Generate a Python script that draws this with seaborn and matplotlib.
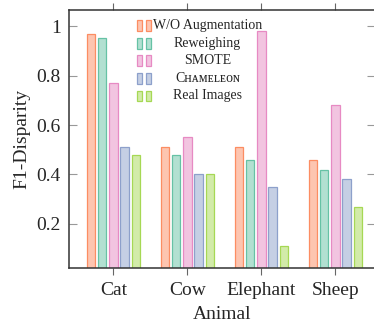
import pandas as pd
import matplotlib
matplotlib.use("Agg")
import matplotlib.pyplot as plt
from matplotlib.colors import to_rgba
from matplotlib.patches import Rectangle
import seaborn as sns

# ---- datos ----
animals = ["Cat", "Cow", "Elephant", "Sheep"]
methods = ["W/O Augmentation", "Reweighing", "SMOTE", "Chameleon", "Real Images"]
labels = ["W/O Augmentation", "Reweighing", "SMOTE", "C\u029c\u1d00\u1d0d\u1d07\u029f\u1d07\u1d0f\u0274", "Real Images"]
wo_aug = [0.97, 0.51, 0.51, 0.46]
reweigh = [0.95, 0.48, 0.46, 0.42]
smote = [0.77, 0.55, 0.98, 0.68]
chameleon = [0.51, 0.40, 0.35, 0.38]
real_img = [0.48, 0.40, 0.11, 0.27]
yticks = [0.2, 0.4, 0.6, 0.8, 1.0]
ytick_labels = ["0.2", "0.4", "0.6", "0.8", "1"]
colors = ["#fc8d62", "#66c2a5", "#e78ac3", "#8da0cb", "#a6d854"]

rows = []
for m, vals in zip(methods, [wo_aug, reweigh, smote, chameleon, real_img]):
    for a, v in zip(animals, vals):
        rows.append({"Animal": a, "Method": m, "F1": v})
df = pd.DataFrame(rows)

sns.set_theme(style="ticks")
plt.rcParams["font.family"] = ["Liberation Serif", "DejaVu Serif"]

fig = plt.figure(figsize=(3.74, 3.25), dpi=100)
ax = fig.add_axes([0.1845, 0.1754, 0.818, 0.7938])

sns.barplot(data=df, x="Animal", y="F1", hue="Method", hue_order=methods,
            palette=colors, width=0.76, gap=0.24, legend=False, ax=ax,
            errorbar=None)

# relleno claro + borde del color
for cont, c in zip(ax.containers, colors):
    for p in cont:
        p.set_facecolor(to_rgba(c, 0.5))
        p.set_edgecolor(c)
        p.set_linewidth(0.9)

ax.set_xlim(-0.6, 3.536)
ax.set_ylim(0.022, 1.065)
ax.set_yticks(yticks)
ax.set_yticklabels(ytick_labels)
ax.set_xlabel("Animal", fontsize=14, labelpad=5)
ax.set_ylabel("F1-Disparity", fontsize=14, labelpad=4)

for s in ax.spines.values():
    s.set_color("#333333")
    s.set_linewidth(1.1)

ax.tick_params(axis="x", which="both", bottom=True, top=True, direction="out",
               length=5, width=0.8, color="#666666", labelsize=14, pad=5)
ax.tick_params(axis="y", left=True, right=True, direction="in",
               length=6, width=0.8, color="#999999", labelsize=14, pad=6)

# ---- leyenda (dos cuadritos + texto centrado) ----
row_y = 0.939
step = 0.068
for i, (lab, c) in enumerate(zip(labels, colors)):
    y = row_y - i * step
    for x0 in (0.221, 0.253):
        ax.add_patch(Rectangle((x0, y - 0.021), 0.016, 0.042, transform=ax.transAxes,
                               facecolor=to_rgba(c, 0.5), edgecolor=c, linewidth=0.9,
                               clip_on=False))
    ax.text(0.452, y, lab, transform=ax.transAxes, ha="center", va="center",
            fontsize=10)

plt.savefig("out.png", dpi=100)
plt.close()
